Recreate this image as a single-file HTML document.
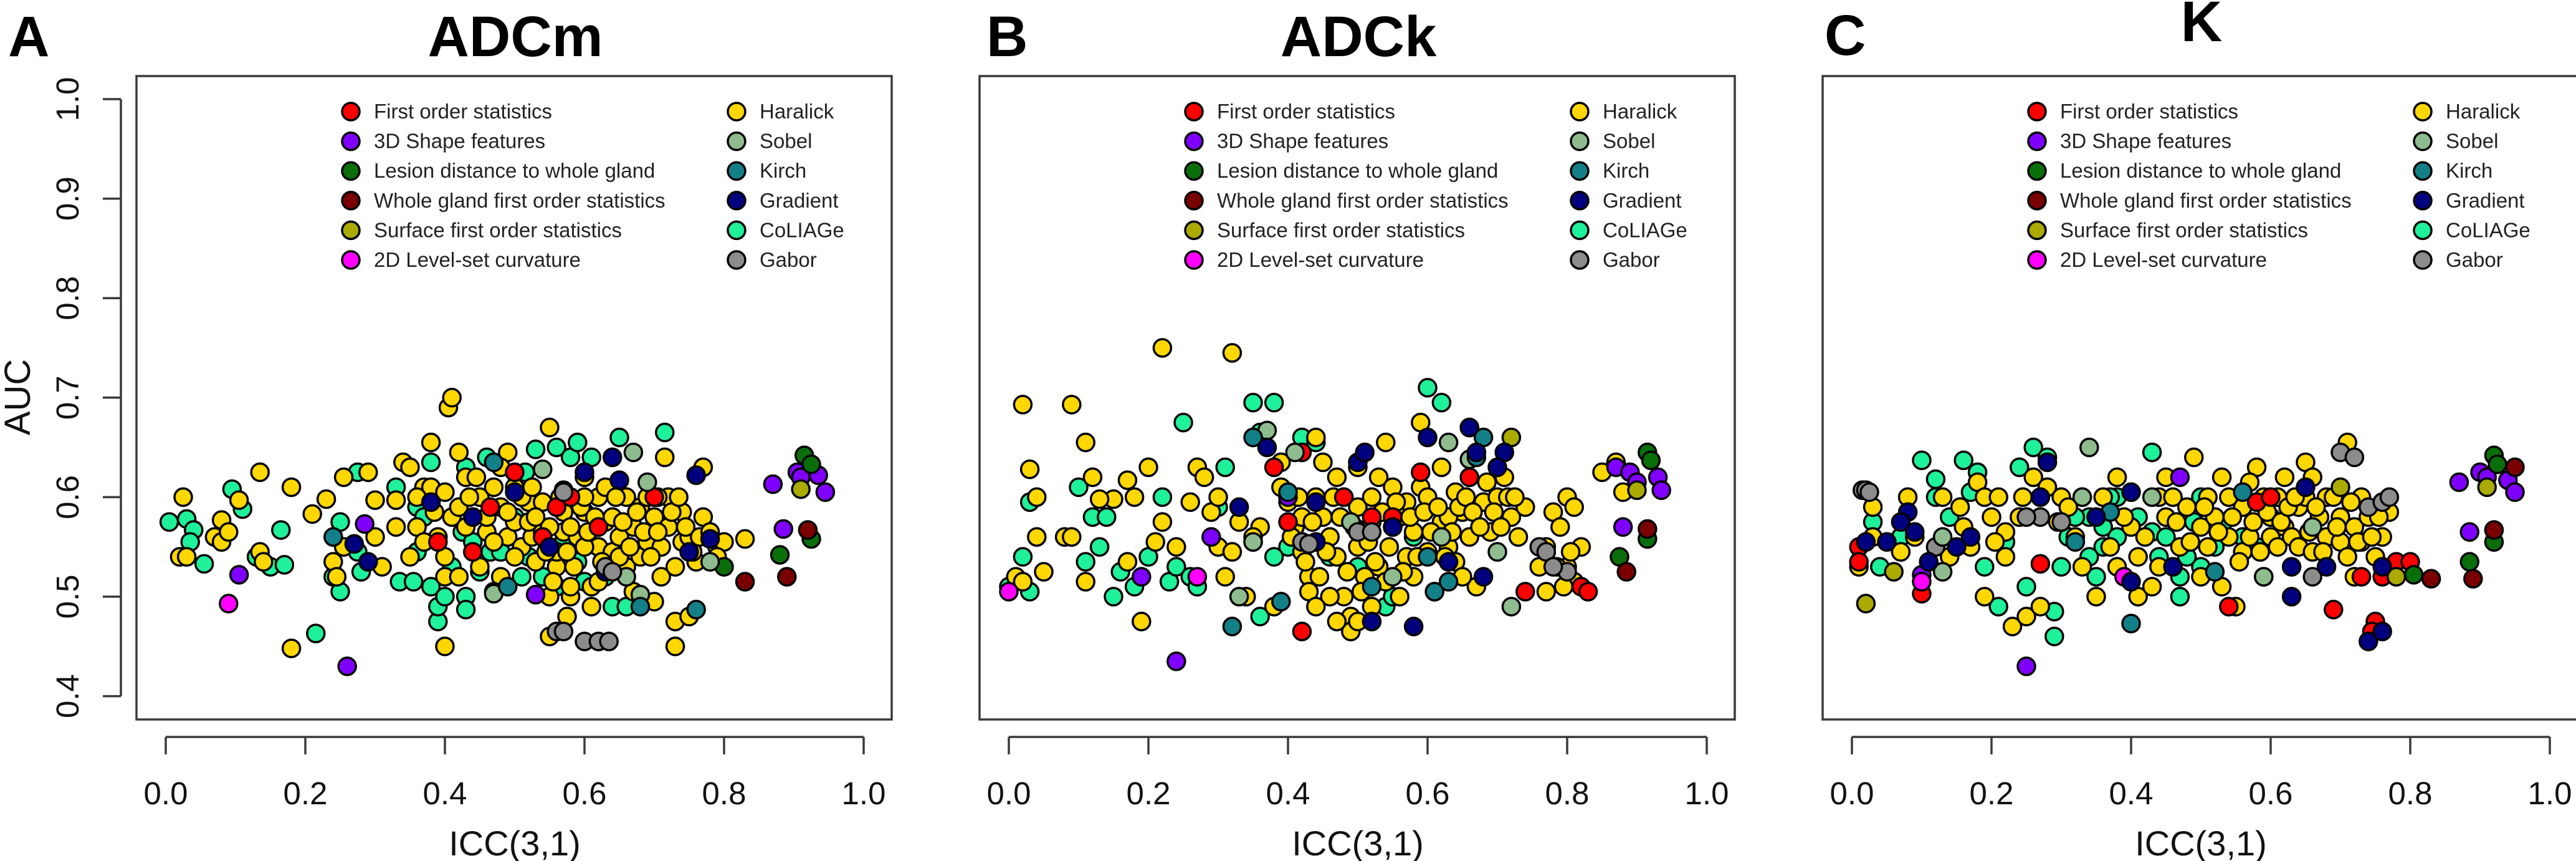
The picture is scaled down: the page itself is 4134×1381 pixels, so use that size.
<!DOCTYPE html>
<html><head><meta charset="utf-8">
<style>
html,body{margin:0;padding:0;background:#fff;}
svg{display:block;font-family:"Liberation Sans",Arial,sans-serif;}
.big{font-family:"Liberation Sans",sans-serif;font-weight:bold;fill:#000;}
</style></head>
<body>
<svg id="fig" width="4134" height="1381" viewBox="0 0 4134 1381" xmlns="http://www.w3.org/2000/svg"></svg>
<script>
const categoryNames=["First order statistics","3D Shape features","Lesion distance to whole gland","Whole gland first order statistics","Surface first order statistics","2D Level-set curvature","Haralick","Sobel","Kirch","Gradient","CoLIAGe","Gabor"];
const categoryColors=["#ff0000","#8000ff","#0a6e0a","#7a0000","#aaaa00","#ff00ff","#ffd700","#8fbc8f","#138088","#00007f","#1ff09a","#8c8c8c"];
const xTicks=[0.0,0.2,0.4,0.6,0.8,1.0];
const xTickLabels=["0.0","0.2","0.4","0.6","0.8","1.0"];
const yTicks=[0.4,0.5,0.6,0.7,0.8,0.9,1.0];
const yTickLabels=["0.4","0.5","0.6","0.7","0.8","0.9","1.0"];
const panelTitles=["ADCm","ADCk","K"];
const panelLetters=["A","B","C"];
// Panel A points: [x, y, category]
const panelA=[
[0.005,0.575,10],[0.03,0.578,10],[0.04,0.567,10],[0.035,0.555,10],[0.055,0.533,10],[0.095,0.608,10],[0.11,0.588,10],[0.13,0.54,10],[0.15,0.53,10],[0.17,0.532,10],[0.165,0.567,10],[0.215,0.463,10],[0.24,0.52,10],[0.25,0.575,10],[0.25,0.505,10],[0.275,0.545,10],[0.28,0.525,10],[0.275,0.625,10],[0.33,0.61,10],[0.335,0.515,10],[0.355,0.515,10],[0.36,0.59,10],[0.37,0.58,10],[0.38,0.51,10],[0.39,0.475,10],[0.39,0.49,10],[0.4,0.5,10],[0.425,0.565,10],[0.43,0.5,10],[0.43,0.487,10],[0.45,0.525,10],[0.46,0.64,10],[0.465,0.545,10],[0.48,0.545,10],[0.5,0.58,10],[0.51,0.52,10],[0.515,0.625,10],[0.53,0.648,10],[0.54,0.52,10],[0.56,0.65,10],[0.58,0.64,10],[0.59,0.655,10],[0.61,0.64,10],[0.65,0.66,10],[0.62,0.55,10],[0.64,0.49,10],[0.66,0.49,10],[0.715,0.665,10],[0.6,0.515,10],[0.63,0.52,10],[0.38,0.635,10],[0.43,0.63,10],[0.57,0.555,10],
[0.36,0.545,10],[0.41,0.53,10],[0.44,0.555,10],[0.52,0.54,10],[0.56,0.51,10],[0.59,0.535,10],
[0.02,0.54,6],[0.03,0.54,6],[0.025,0.6,6],[0.07,0.56,6],[0.08,0.555,6],[0.08,0.577,6],[0.09,0.565,6],[0.105,0.597,6],[0.135,0.625,6],[0.135,0.545,6],[0.14,0.535,6],[0.18,0.61,6],[0.18,0.448,6],[0.21,0.583,6],[0.23,0.598,6],[0.24,0.535,6],[0.245,0.52,6],[0.255,0.55,6],[0.255,0.62,6],[0.29,0.625,6],[0.3,0.597,6],[0.3,0.56,6],[0.31,0.53,6],[0.33,0.597,6],[0.33,0.57,6],[0.34,0.635,6],[0.35,0.63,6],[0.35,0.54,6],[0.36,0.57,6],[0.37,0.61,6],[0.38,0.655,6],[0.38,0.61,6],[0.39,0.56,6],[0.4,0.605,6],[0.4,0.54,6],[0.4,0.52,6],[0.4,0.45,6],[0.405,0.69,6],[0.41,0.7,6],[0.41,0.58,6],[0.42,0.59,6],[0.42,0.52,6],[0.42,0.645,6],[0.43,0.62,6],[0.445,0.62,6],[0.45,0.6,6],[0.46,0.565,6],[0.47,0.61,6],[0.48,0.59,6],[0.48,0.52,6],[0.49,0.645,6],[0.49,0.56,6],[0.5,0.61,6],[0.5,0.575,6],[0.51,0.55,6],[0.52,0.595,6],[0.525,0.56,6],[0.53,0.535,6],[0.54,0.565,6],[0.55,0.67,6],[0.55,0.5,6],[0.55,0.46,6],[0.56,0.53,6],[0.56,0.545,6],[0.57,0.585,6],[0.57,0.565,6],[0.575,0.48,6],[0.58,0.5,6],[0.58,0.51,6],[0.585,0.53,6],[0.59,0.56,6],[0.6,0.62,6],[0.6,0.585,6],[0.61,0.51,6],[0.61,0.49,6],[0.62,0.55,6],[0.62,0.6,6],[0.63,0.575,6],[0.63,0.61,6],[0.64,0.545,6],[0.64,0.58,6],[0.65,0.56,6],[0.66,0.6,6],[0.66,0.53,6],[0.67,0.505,6],[0.67,0.57,6],[0.68,0.59,6],[0.68,0.54,6],[0.69,0.6,6],[0.69,0.555,6],[0.7,0.495,6],[0.7,0.58,6],[0.71,0.52,6],[0.71,0.55,6],[0.715,0.64,6],[0.72,0.6,6],[0.72,0.57,6],[0.73,0.475,6],[0.73,0.45,6],[0.73,0.53,6],[0.74,0.585,6],[0.74,0.555,6],[0.75,0.48,6],[0.75,0.56,6],[0.76,0.535,6],[0.77,0.58,6],[0.77,0.63,6],[0.79,0.55,6],[0.8,0.555,6],[0.83,0.558,6],[0.45,0.53,6],[0.47,0.505,6],[0.52,0.575,6],[0.54,0.595,6],[0.6,0.55,6],[0.65,0.54,6],[0.55,0.57,6],[0.5,0.54,6],[0.46,0.58,6],[0.36,0.6,6],
[0.37,0.555,6],[0.385,0.585,6],[0.43,0.57,6],[0.435,0.6,6],[0.47,0.555,6],[0.49,0.585,6],[0.51,0.6,6],[0.53,0.58,6],[0.545,0.545,6],[0.555,0.515,6],[0.565,0.6,6],[0.58,0.57,6],[0.595,0.59,6],[0.605,0.565,6],[0.615,0.58,6],[0.625,0.535,6],[0.645,0.6,6],[0.655,0.575,6],[0.665,0.55,6],[0.675,0.585,6],[0.685,0.565,6],[0.695,0.54,6],[0.705,0.6,6],[0.705,0.565,6],[0.725,0.585,6],[0.735,0.6,6],[0.745,0.57,6],[0.755,0.545,6],[0.765,0.56,6],[0.78,0.565,6],[0.79,0.54,6],[0.62,0.515,6],[0.6,0.6,6],[0.575,0.545,6],[0.525,0.61,6],[0.48,0.63,6],
[0.39,0.555,0],[0.465,0.59,0],[0.5,0.625,0],[0.56,0.59,0],[0.58,0.6,0],[0.62,0.57,0],[0.7,0.6,0],[0.54,0.56,0],[0.44,0.545,0],
[0.105,0.522,1],[0.26,0.43,1],[0.285,0.573,1],[0.53,0.502,1],[0.87,0.613,1],[0.885,0.568,1],[0.905,0.625,1],[0.91,0.62,1],[0.935,0.622,1],[0.945,0.605,1],
[0.915,0.642,2],[0.925,0.633,2],[0.88,0.542,2],[0.925,0.558,2],[0.8,0.53,2],
[0.83,0.515,3],[0.89,0.52,3],[0.92,0.567,3],
[0.91,0.608,4],[0.09,0.493,5],
[0.54,0.628,7],[0.57,0.607,7],[0.67,0.645,7],[0.69,0.615,7],[0.47,0.503,7],[0.68,0.502,7],[0.66,0.52,7],[0.78,0.535,7],
[0.47,0.635,8],[0.49,0.51,8],[0.76,0.487,8],[0.68,0.49,8],[0.24,0.56,8],
[0.27,0.553,9],[0.29,0.535,9],[0.38,0.595,9],[0.44,0.58,9],[0.5,0.605,9],[0.6,0.625,9],[0.64,0.64,9],[0.65,0.617,9],[0.76,0.622,9],[0.78,0.558,9],[0.75,0.545,9],[0.63,0.525,9],[0.55,0.55,9],
[0.56,0.465,11],[0.57,0.465,11],[0.6,0.455,11],[0.62,0.455,11],[0.635,0.455,11],[0.63,0.53,11],[0.64,0.525,11],[0.57,0.605,11]
];
const panelB=[
[0.0,0.51,10],[0.02,0.54,10],[0.03,0.595,10],[0.03,0.505,10],[0.1,0.61,10],[0.11,0.535,10],[0.12,0.58,10],[0.14,0.58,10],[0.13,0.55,10],[0.16,0.525,10],[0.15,0.5,10],[0.18,0.51,10],[0.2,0.54,10],[0.22,0.6,10],[0.23,0.515,10],[0.24,0.53,10],[0.26,0.52,10],[0.27,0.51,10],[0.25,0.675,10],[0.31,0.63,10],[0.35,0.695,10],[0.38,0.695,10],[0.36,0.665,10],[0.35,0.555,10],[0.36,0.48,10],[0.4,0.55,10],[0.42,0.66,10],[0.44,0.655,10],[0.5,0.53,10],[0.54,0.49,10],[0.55,0.5,10],[0.6,0.71,10],[0.62,0.695,10],[0.58,0.56,10],[0.46,0.54,10],[0.38,0.54,10],[0.3,0.59,10],
[0.22,0.75,6],[0.32,0.745,6],[0.02,0.693,6],[0.09,0.693,6],[0.11,0.655,6],[0.03,0.628,6],[0.04,0.6,6],[0.12,0.62,6],[0.15,0.598,6],[0.17,0.617,6],[0.18,0.6,6],[0.2,0.63,6],[0.22,0.575,6],[0.21,0.555,6],[0.24,0.55,6],[0.13,0.598,6],[0.04,0.56,6],[0.08,0.56,6],[0.09,0.56,6],[0.05,0.525,6],[0.01,0.52,6],[0.02,0.515,6],[0.11,0.515,6],[0.19,0.475,6],[0.17,0.535,6],[0.29,0.585,6],[0.3,0.6,6],[0.33,0.575,6],[0.34,0.5,6],[0.26,0.595,6],[0.27,0.63,6],[0.28,0.62,6],[0.3,0.55,6],[0.31,0.52,6],[0.32,0.545,6],[0.36,0.57,6],[0.38,0.49,6],[0.39,0.61,6],[0.39,0.635,6],[0.4,0.595,6],[0.41,0.57,6],[0.42,0.545,6],[0.43,0.52,6],[0.43,0.505,6],[0.44,0.6,6],[0.44,0.66,6],[0.45,0.635,6],[0.45,0.58,6],[0.46,0.56,6],[0.47,0.54,6],[0.48,0.6,6],[0.48,0.5,6],[0.49,0.48,6],[0.49,0.465,6],[0.5,0.55,6],[0.5,0.59,6],[0.51,0.52,6],[0.52,0.575,6],[0.52,0.6,6],[0.53,0.53,6],[0.53,0.62,6],[0.54,0.655,6],[0.55,0.57,6],[0.56,0.5,6],[0.57,0.54,6],[0.57,0.595,6],[0.58,0.565,6],[0.59,0.675,6],[0.59,0.61,6],[0.6,0.6,6],[0.6,0.545,6],[0.61,0.505,6],[0.62,0.575,6],[0.62,0.63,6],[0.63,0.55,6],[0.64,0.605,6],[0.64,0.535,6],[0.65,0.585,6],[0.66,0.62,6],[0.66,0.56,6],[0.67,0.51,6],[0.68,0.595,6],[0.69,0.565,6],[0.7,0.6,6],[0.71,0.62,6],[0.72,0.58,6],[0.73,0.56,6],[0.76,0.53,6],[0.77,0.55,6],[0.77,0.505,6],[0.78,0.585,6],[0.79,0.57,6],[0.8,0.6,6],[0.81,0.59,6],[0.8,0.53,6],[0.81,0.515,6],[0.82,0.55,6],[0.85,0.625,6],[0.87,0.635,6],[0.88,0.605,6],[0.47,0.62,6],[0.5,0.63,6],[0.55,0.61,6],[0.63,0.58,6],[0.65,0.52,6],[0.42,0.58,6],[0.35,0.56,6],[0.58,0.52,6],[0.52,0.49,6],[0.46,0.5,6],[0.74,0.59,6],[0.56,0.58,6],
[0.405,0.56,6],[0.415,0.6,6],[0.425,0.535,6],[0.435,0.575,6],[0.445,0.52,6],[0.455,0.545,6],[0.465,0.6,6],[0.475,0.58,6],[0.485,0.525,6],[0.495,0.57,6],[0.505,0.505,6],[0.515,0.555,6],[0.525,0.535,6],[0.535,0.585,6],[0.545,0.55,6],[0.555,0.595,6],[0.565,0.525,6],[0.575,0.58,6],[0.585,0.54,6],[0.595,0.585,6],[0.605,0.565,6],[0.615,0.59,6],[0.625,0.54,6],[0.635,0.565,6],[0.645,0.59,6],[0.655,0.6,6],[0.665,0.585,6],[0.675,0.57,6],[0.685,0.615,6],[0.695,0.585,6],[0.705,0.57,6],[0.715,0.6,6],[0.725,0.6,6],[0.785,0.53,6],[0.795,0.51,6],[0.805,0.545,6],[0.44,0.49,6],[0.47,0.475,6],[0.5,0.475,6],[0.54,0.515,6],
[0.38,0.63,0],[0.42,0.645,0],[0.4,0.575,0],[0.48,0.6,0],[0.52,0.58,0],[0.59,0.625,0],[0.66,0.62,0],[0.42,0.465,0],[0.55,0.58,0],[0.82,0.51,0],[0.83,0.505,0],[0.74,0.505,0],
[0.24,0.435,1],[0.19,0.52,1],[0.29,0.56,1],[0.87,0.63,1],[0.89,0.625,1],[0.9,0.615,1],[0.93,0.62,1],[0.935,0.607,1],[0.88,0.57,1],[0.4,0.6,1],
[0.915,0.645,2],[0.92,0.637,2],[0.915,0.558,2],[0.875,0.54,2],
[0.915,0.568,3],[0.885,0.525,3],
[0.9,0.607,4],[0.72,0.66,4],
[0.0,0.505,5],[0.27,0.52,5],
[0.37,0.667,7],[0.35,0.555,7],[0.41,0.645,7],[0.49,0.575,7],[0.63,0.655,7],[0.66,0.67,7],[0.66,0.638,7],[0.62,0.56,7],[0.7,0.545,7],[0.72,0.49,7],[0.55,0.52,7],[0.33,0.5,7],
[0.35,0.66,8],[0.32,0.47,8],[0.4,0.605,8],[0.39,0.495,8],[0.52,0.51,8],[0.61,0.505,8],[0.67,0.64,8],[0.68,0.66,8],[0.6,0.54,8],[0.63,0.515,8],
[0.33,0.59,9],[0.37,0.65,9],[0.44,0.555,9],[0.5,0.635,9],[0.51,0.645,9],[0.55,0.57,9],[0.6,0.66,9],[0.66,0.67,9],[0.67,0.645,9],[0.71,0.645,9],[0.7,0.63,9],[0.52,0.475,9],[0.58,0.47,9],[0.63,0.535,9],[0.68,0.52,9],[0.44,0.595,9],
[0.42,0.555,11],[0.43,0.553,11],[0.5,0.565,11],[0.52,0.565,11],[0.76,0.55,11],[0.77,0.545,11],[0.8,0.525,11],[0.78,0.53,11]
];
const panelC=[
[0.1,0.637,10],[0.12,0.618,10],[0.16,0.637,10],[0.18,0.625,10],[0.12,0.6,10],[0.14,0.58,10],[0.17,0.605,10],[0.03,0.575,10],[0.04,0.53,10],[0.07,0.56,10],[0.19,0.53,10],[0.21,0.49,10],[0.24,0.63,10],[0.26,0.65,10],[0.28,0.64,10],[0.27,0.6,10],[0.25,0.51,10],[0.29,0.485,10],[0.29,0.46,10],[0.31,0.56,10],[0.33,0.6,10],[0.34,0.58,10],[0.36,0.57,10],[0.36,0.55,10],[0.38,0.56,10],[0.38,0.6,10],[0.43,0.645,10],[0.43,0.565,10],[0.45,0.56,10],[0.49,0.575,10],[0.5,0.6,10],[0.53,0.57,10],[0.47,0.5,10],[0.5,0.53,10],[0.48,0.54,10],[0.56,0.56,10],[0.58,0.55,10],[0.3,0.53,10],[0.22,0.555,10],[0.35,0.52,10],[0.47,0.52,10],
[0.32,0.58,10],[0.34,0.54,10],[0.37,0.6,10],[0.41,0.58,10],[0.44,0.54,10],[0.52,0.55,10],
[0.01,0.53,6],[0.03,0.56,6],[0.03,0.59,6],[0.07,0.545,6],[0.09,0.56,6],[0.13,0.6,6],[0.14,0.54,6],[0.16,0.57,6],[0.17,0.55,6],[0.18,0.615,6],[0.19,0.6,6],[0.19,0.5,6],[0.2,0.58,6],[0.21,0.6,6],[0.22,0.565,6],[0.22,0.54,6],[0.23,0.47,6],[0.25,0.48,6],[0.27,0.49,6],[0.26,0.62,6],[0.28,0.61,6],[0.3,0.6,6],[0.31,0.59,6],[0.32,0.56,6],[0.33,0.53,6],[0.35,0.5,6],[0.37,0.55,6],[0.38,0.53,6],[0.38,0.62,6],[0.4,0.57,6],[0.41,0.54,6],[0.41,0.5,6],[0.43,0.51,6],[0.44,0.6,6],[0.45,0.58,6],[0.46,0.6,6],[0.47,0.55,6],[0.48,0.59,6],[0.49,0.64,6],[0.5,0.57,6],[0.51,0.55,6],[0.51,0.6,6],[0.52,0.58,6],[0.53,0.62,6],[0.53,0.51,6],[0.54,0.56,6],[0.55,0.49,6],[0.56,0.59,6],[0.56,0.545,6],[0.57,0.56,6],[0.58,0.63,6],[0.59,0.6,6],[0.6,0.58,6],[0.6,0.56,6],[0.61,0.55,6],[0.61,0.6,6],[0.62,0.57,6],[0.63,0.56,6],[0.64,0.59,6],[0.64,0.55,6],[0.65,0.635,6],[0.65,0.6,6],[0.66,0.545,6],[0.67,0.58,6],[0.68,0.6,6],[0.68,0.56,6],[0.69,0.6,6],[0.7,0.58,6],[0.7,0.555,6],[0.71,0.655,6],[0.71,0.54,6],[0.72,0.57,6],[0.72,0.52,6],[0.73,0.6,6],[0.73,0.555,6],[0.74,0.58,6],[0.75,0.54,6],[0.76,0.56,6],[0.77,0.585,6],[0.45,0.62,6],[0.42,0.56,6],[0.24,0.58,6],[0.08,0.6,6],[0.36,0.6,6],[0.54,0.6,6],[0.5,0.52,6],[0.44,0.53,6],[0.66,0.62,6],[0.62,0.62,6],[0.57,0.615,6],[0.39,0.58,6],
[0.465,0.575,6],[0.485,0.555,6],[0.505,0.59,6],[0.525,0.565,6],[0.545,0.58,6],[0.555,0.535,6],[0.575,0.575,6],[0.585,0.545,6],[0.595,0.585,6],[0.615,0.575,6],[0.625,0.59,6],[0.635,0.6,6],[0.655,0.565,6],[0.665,0.59,6],[0.675,0.545,6],[0.695,0.57,6],[0.715,0.595,6],[0.725,0.555,6],[0.745,0.56,6],[0.755,0.58,6],[0.155,0.59,6],[0.205,0.555,6],[0.245,0.6,6],[0.295,0.575,6],
[0.015,0.607,11],[0.02,0.607,11],[0.025,0.605,11],[0.27,0.58,11],[0.25,0.58,11],[0.3,0.575,11],[0.7,0.645,11],[0.72,0.64,11],[0.74,0.59,11],[0.76,0.595,11],[0.77,0.6,11],[0.66,0.52,11],[0.12,0.55,11],
[0.01,0.55,0],[0.01,0.535,0],[0.1,0.503,0],[0.27,0.533,0],[0.58,0.595,0],[0.6,0.6,0],[0.54,0.49,0],[0.69,0.487,0],[0.75,0.475,0],[0.745,0.465,0],[0.78,0.535,0],[0.8,0.535,0],[0.76,0.52,0],[0.73,0.52,0],[0.59,0.52,0],
[0.25,0.43,1],[0.47,0.62,1],[0.87,0.615,1],[0.9,0.625,1],[0.91,0.62,1],[0.94,0.617,1],[0.95,0.605,1],[0.885,0.565,1],[0.1,0.522,1],
[0.92,0.642,2],[0.925,0.633,2],[0.885,0.535,2],[0.92,0.555,2],[0.805,0.522,2],
[0.83,0.518,3],[0.89,0.518,3],[0.92,0.567,3],[0.95,0.63,3],
[0.02,0.493,4],[0.06,0.525,4],[0.91,0.61,4],[0.78,0.52,4],[0.7,0.61,4],
[0.1,0.515,5],[0.39,0.52,5],
[0.34,0.65,7],[0.43,0.6,7],[0.33,0.6,7],[0.13,0.56,7],[0.66,0.57,7],[0.59,0.52,7],[0.13,0.525,7],
[0.4,0.473,8],[0.37,0.585,8],[0.32,0.555,8],[0.52,0.525,8],[0.56,0.605,8],
[0.02,0.555,9],[0.08,0.585,9],[0.07,0.575,9],[0.09,0.565,9],[0.05,0.555,9],[0.11,0.535,9],[0.15,0.55,9],[0.17,0.56,9],[0.28,0.635,9],[0.27,0.6,9],[0.35,0.58,9],[0.4,0.605,9],[0.46,0.53,9],[0.4,0.515,9],[0.63,0.53,9],[0.65,0.61,9],[0.63,0.5,9],[0.74,0.455,9],[0.76,0.465,9],[0.76,0.53,9],[0.68,0.53,9]
];
const panels=[panelA,panelB,panelC];

const NS="http://www.w3.org/2000/svg";
const svg=document.getElementById('fig');
function mk(tag,attrs,parent){const e=document.createElementNS(NS,tag);for(const k in attrs)e.setAttribute(k,attrs[k]);(parent||svg).appendChild(e);return e;}
const PANEL_DX=1353;
function xScale(p,v){return 266+p*PANEL_DX+v*1120;}
function yScale(v){return 159+(1.0-v)*1596;}

for(let p=0;p<3;p++){
  const off=p*PANEL_DX;
  const g=mk('g',{});
  
  
  const lx=[13,1583,2928][p], ly=[90,90,88][p];
  const L=mk('text',{x:lx,y:ly,'font-size':92,class:'big'},g);
  L.textContent=panelLetters[p];
  
  
  const T=mk('text',{x:827+off,y:p===2?66:90,'font-size':92,'text-anchor':'middle',class:'big'},g);
  T.textContent=panelTitles[p];
  
  
  const box=mk('rect',{x:219+off,y:122,width:1212,height:1032,fill:'none',stroke:'#3a3a3a','stroke-width':3.5},g);
  
  
  const xa=mk('g',{},g);
  
  
  mk('line',{x1:xScale(p,0),x2:xScale(p,1),y1:1182,y2:1182,stroke:'#3a3a3a','stroke-width':3.5},xa);
  xTicks.forEach((t,i)=>{
    mk('line',{x1:xScale(p,t),x2:xScale(p,t),y1:1182,y2:1210,stroke:'#3a3a3a','stroke-width':3.5},xa);
    const tl=mk('text',{x:xScale(p,t),y:1290,'font-size':51,'text-anchor':'middle',fill:'#111'},xa);
    tl.textContent=xTickLabels[i];
    
    
  });
  const xl=mk('text',{x:826+off,y:1372,'font-size':56,'text-anchor':'middle',fill:'#111'},g);
  xl.textContent='ICC(3,1)';
  
  
  if(p===0){
    const ya=mk('g',{},g);
    
    
    mk('line',{x1:194,x2:194,y1:yScale(0.4),y2:yScale(1.0),stroke:'#3a3a3a','stroke-width':3.5},ya);
    yTicks.forEach((t,i)=>{
      mk('line',{x1:165,x2:194,y1:yScale(t),y2:yScale(t),stroke:'#3a3a3a','stroke-width':3.5},ya);
      const tl=mk('text',{x:0,y:0,'font-size':51,'text-anchor':'middle',fill:'#111',transform:`translate(126,${yScale(t)}) rotate(-90)`},ya);
      tl.textContent=yTickLabels[i];
      
      
    });
    const yl=mk('text',{x:0,y:0,'font-size':58,'text-anchor':'middle',fill:'#111',transform:'translate(48,637) rotate(-90)'},g);
    yl.textContent='AUC';
    
    
  }
  const pg=mk('g',{},g);
  
  
  panels[p].forEach(d=>{
    const c=mk('circle',{cx:xScale(p,d[0]),cy:yScale(d[1]),r:14,fill:categoryColors[d[2]],stroke:'#000','stroke-width':3.5},pg);
    
    
  });
  const lg=mk('g',{},g);
  
  
  categoryNames.forEach((n,i)=>{
    const col=i<6?0:1, row=i%6;
    const mx=(col?1182:563)+off, my=179+row*47.6;
    const e=mk('g',{},lg);
    
    
    mk('circle',{cx:mx,cy:my,r:14,fill:categoryColors[i],stroke:'#000','stroke-width':3.5},e);
    const t=mk('text',{x:mx+37,y:my+11,'font-size':33,fill:'#222'},e);
    t.textContent=n;
  });
}
</script>
</body></html>
